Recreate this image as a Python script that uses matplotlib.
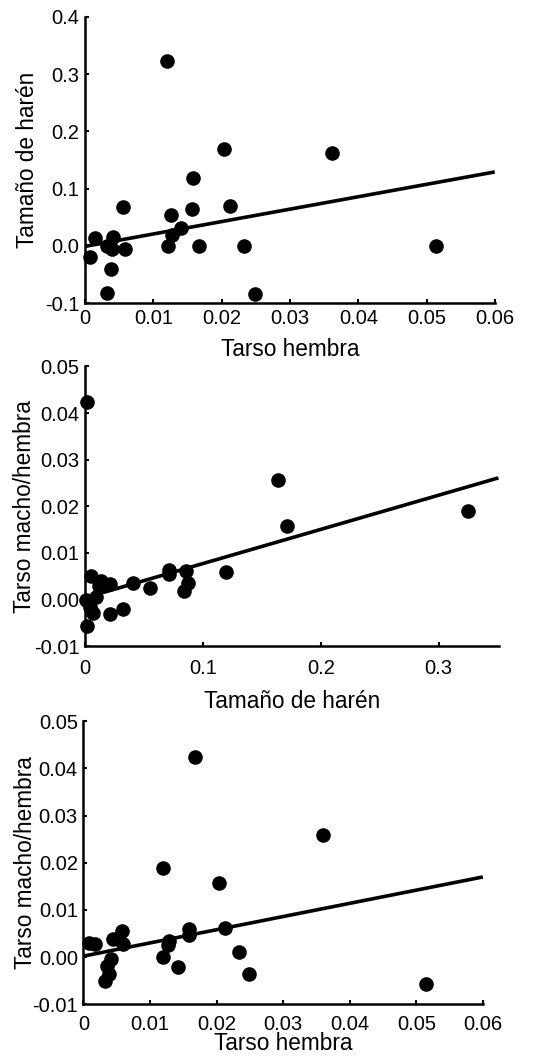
import numpy as np
import matplotlib
matplotlib.use("Agg")
import matplotlib.pyplot as plt

plt.rcParams["font.family"] = ["Liberation Sans", "DejaVu Sans"]

# Panel 1: Tarso hembra vs Tamaño de harén
p1_x = [0.0007, 0.0015, 0.0033, 0.0041, 0.0040, 0.0038, 0.0033, 0.0058, 0.0055,
        0.0120, 0.0121, 0.0126, 0.0127, 0.0140, 0.0156, 0.0158, 0.0167, 0.0204,
        0.0212, 0.0232, 0.0249, 0.0361, 0.0514]
p1_y = [-0.019, 0.013, 0.000, 0.015, -0.006, -0.040, -0.082, -0.005, 0.068,
        0.323, 0.000, 0.054, 0.019, 0.031, 0.064, 0.119, 0.000, 0.170,
        0.069, 0.000, -0.085, 0.163, 0.000]
p1_fit = (-0.001, 2.17)  # intercept, slope

# Panel 2: Tamaño de harén vs Tarso macho/hembra
p2_x = [0.002, 0.001, 0.005, 0.002, 0.004, 0.007, 0.009, 0.012, 0.014, 0.021,
        0.021, 0.032, 0.041, 0.055, 0.071, 0.0715, 0.0857, 0.0877, 0.0837,
        0.120, 0.1637, 0.171, 0.325]
p2_y = [0.0424, 0.0000, 0.0051, -0.0057, -0.0016, -0.0028, 0.0006, 0.0029,
        0.0040, 0.0033, -0.0030, -0.0021, 0.0036, 0.0026, 0.0056, 0.0063,
        0.0061, 0.0036, 0.0019, 0.0059, 0.0257, 0.0157, 0.0189]
p2_fit = (0.0004, 0.0733)

# Panel 3: Tarso hembra vs Tarso macho/hembra
p3_x = [0.0008, 0.0017, 0.0044, 0.0058, 0.0059, 0.0042, 0.0035, 0.0039, 0.0033,
        0.0119, 0.0120, 0.0128, 0.0127, 0.0142, 0.0158, 0.0158, 0.0168, 0.0203,
        0.0213, 0.0233, 0.0249, 0.0360, 0.0515]
p3_y = [0.0029, 0.0028, 0.0039, 0.0055, 0.0027, -0.0005, -0.0019, -0.0036,
        -0.0051, 0.0188, 0.0000, 0.0035, 0.0026, -0.0021, 0.0060, 0.0046,
        0.0425, 0.0158, 0.0062, 0.0011, -0.0036, 0.0258, -0.0058]
p3_fit = (0.0002, 0.28)

x_ticks_tarso = [0, 0.01, 0.02, 0.03, 0.04, 0.05, 0.06]
x_labels_tarso = ["0", "0.01", "0.02", "0.03", "0.04", "0.05", "0.06"]
x_ticks_haren = [0, 0.1, 0.2, 0.3]
x_labels_haren = ["0", "0.1", "0.2", "0.3"]
y_ticks_haren = [-0.1, 0.0, 0.1, 0.2, 0.3, 0.4]
y_labels_haren = ["-0.1", "0.0", "0.1", "0.2", "0.3", "0.4"]
y_ticks_macho = [-0.01, 0.0, 0.01, 0.02, 0.03, 0.04, 0.05]
y_labels_macho = ["-0.01", "0.00", "0.01", "0.02", "0.03", "0.04", "0.05"]

panels = [
    dict(rect=[0.157, 0.713, 0.758, 0.271], x=p1_x, y=p1_y, fit=p1_fit,
         xlim=(0, 0.06), ylim=(-0.1, 0.4),
         xt=x_ticks_tarso, xl=x_labels_tarso, yt=y_ticks_haren, yl=y_labels_haren,
         xlabel="Tarso hembra", ylabel="Tamaño de harén",
         xpad=4, xlpad=7.5, ylpad=4.5),
    dict(rect=[0.157, 0.388, 0.765, 0.265], x=p2_x, y=p2_y, fit=p2_fit,
         xlim=(0, 0.351), ylim=(-0.01, 0.05),
         xt=x_ticks_haren, xl=x_labels_haren, yt=y_ticks_macho, yl=y_labels_macho,
         xlabel="Tamaño de harén", ylabel="Tarso macho/hembra",
         xpad=9, xlpad=9, ylpad=-1.5),
    dict(rect=[0.154, 0.049, 0.739, 0.268], x=p3_x, y=p3_y, fit=p3_fit,
         xlim=(0, 0.06), ylim=(-0.01, 0.05),
         xt=x_ticks_tarso, xl=x_labels_tarso, yt=y_ticks_macho, yl=y_labels_macho,
         xlabel="Tarso hembra", ylabel="Tarso macho/hembra",
         xpad=7.5, xlpad=-1.5, ylpad=-3.5),
]

fig = plt.figure(figsize=(5.41, 10.56), dpi=100)

for p in panels:
    ax = fig.add_axes(p["rect"])
    ax.scatter(p["x"], p["y"], s=90, color="black", zorder=3, clip_on=False)
    x0, x1 = p["xlim"]
    b, m = p["fit"]
    ax.plot([x0, x1 * 0.995], [b + m * x0, b + m * x1 * 0.995], color="black", lw=2.6)
    ax.set_xlim(*p["xlim"])
    ax.set_ylim(*p["ylim"])
    ax.set_xticks(p["xt"])
    ax.set_xticklabels(p["xl"])
    ax.set_yticks(p["yt"])
    ax.set_yticklabels(p["yl"])
    for s in ["top", "right"]:
        ax.spines[s].set_visible(False)
    for s in ["left", "bottom"]:
        ax.spines[s].set_linewidth(1.8)
    ax.tick_params(direction="in", length=3, width=1.5, labelsize=14.5, pad=4)
    ax.tick_params(axis="x", pad=p["xpad"])
    ax.set_xlabel(p["xlabel"], fontsize=16.3, labelpad=p["xlpad"])
    ax.set_ylabel(p["ylabel"], fontsize=16.3, labelpad=p["ylpad"])

plt.savefig("out.png", dpi=100)
plt.close()
